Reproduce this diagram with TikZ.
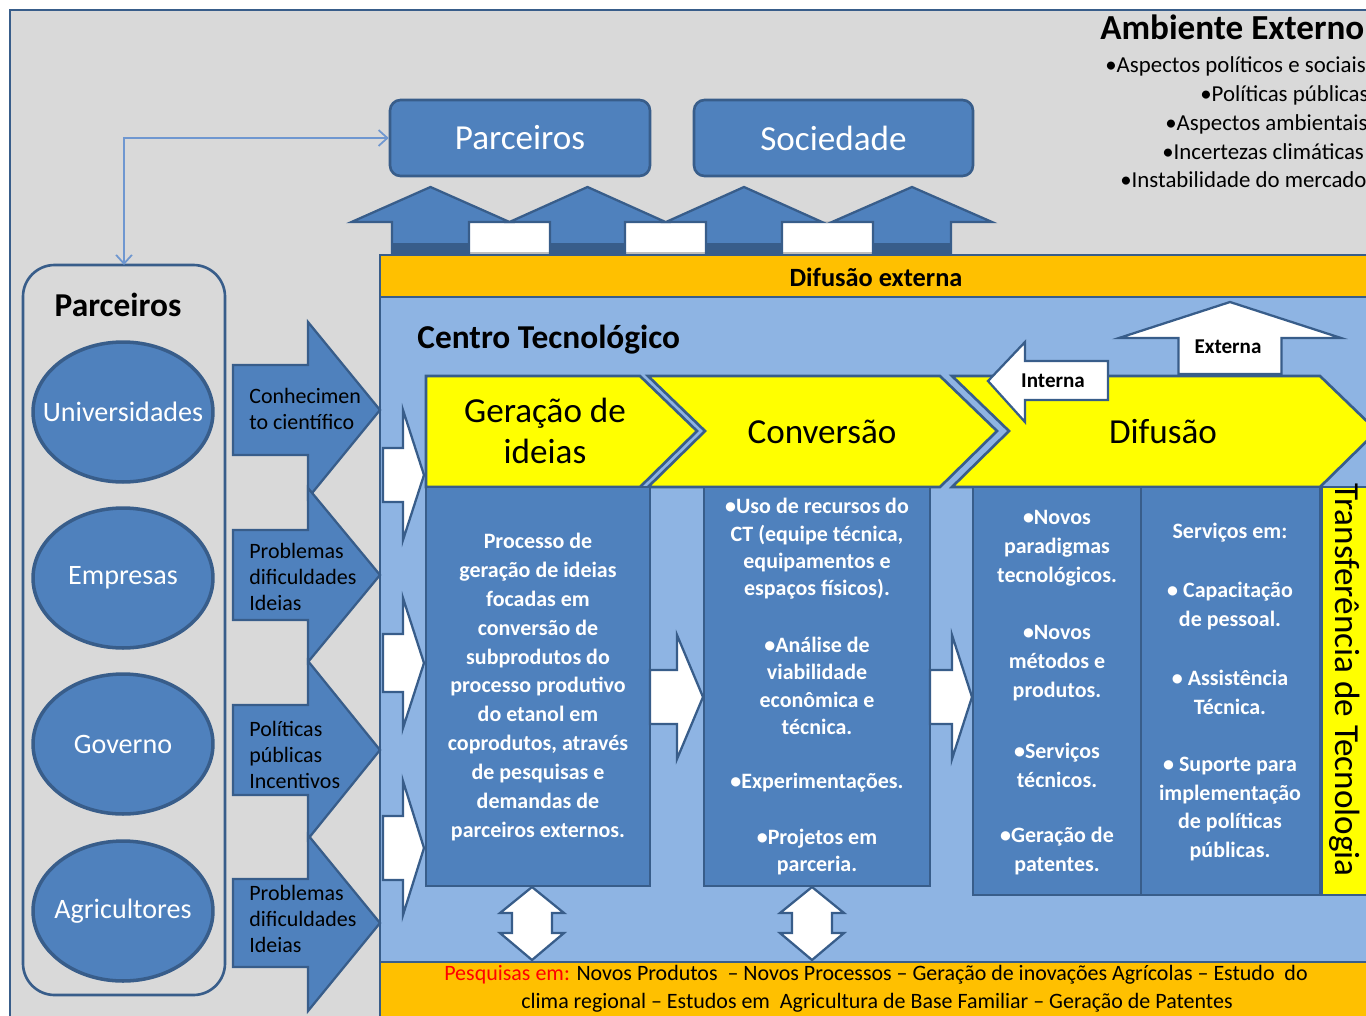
\documentclass[tikz,border=0pt]{standalone}
\usepackage{fontspec}
\setmainfont{Carlito}
\usetikzlibrary{shapes.geometric,arrows.meta}
\definecolor{bggray}{HTML}{D9D9D9}
\definecolor{dblue}{HTML}{385D8A}
\definecolor{mblue}{HTML}{4F81BD}
\definecolor{lblue}{HTML}{8EB4E3}
\definecolor{orangebar}{HTML}{FFC000}
\definecolor{yel}{HTML}{FFFF00}
\definecolor{connc}{HTML}{6F97D0}
\definecolor{boxgray}{HTML}{BFBFBF}
\newcommand\fs[2]{\fontsize{#1}{#2}\selectfont}
% right arrow: style, x0, xh, x1, yc, stem half, head half
\newcommand\RArr[7]{\draw[#1] ({#2},{#5-#6}) -- ({#3},{#5-#6}) -- ({#3},{#5-#7}) -- ({#4},{#5}) -- ({#3},{#5+#7}) -- ({#3},{#5+#6}) -- ({#2},{#5+#6}) -- cycle;}
% up arrow: style, xc, ytip, yhead, ybot, stem half, head half
\newcommand\UArr[7]{\draw[#1] ({#2-#6},{#5}) -- ({#2-#6},{#4}) -- ({#2-#7},{#4}) -- ({#2},{#3}) -- ({#2+#7},{#4}) -- ({#2+#6},{#4}) -- ({#2+#6},{#5}) -- cycle;}
% double vertical arrow: xc
\newcommand\DArr[1]{\draw[whitearr] ({#1},887) -- ({#1+32},913) -- ({#1+20},913) -- ({#1+20},933) -- ({#1+32},933) -- ({#1},960) -- ({#1-32},933) -- ({#1-20},933) -- ({#1-20},913) -- ({#1-32},913) -- cycle;}
\tikzset{
  bord/.style={draw=dblue, line width=1.5pt},
  whitearr/.style={draw=dblue, line width=1.3pt, fill=white},
  bluearr/.style={draw=dblue, line width=1.3pt, fill=mblue},
  topbox/.style={bord, fill=mblue, rounded corners=6pt, text=white, font=\fs{20}{24}, minimum height=1.52cm, inner sep=0},
  oval/.style={ellipse, draw=dblue, line width=2pt, fill=mblue, minimum width=3.6cm, minimum height=2.8cm, inner sep=0},
  ovaltext/.style={text=white, font=\fs{16}{19}, inner sep=0},
  coltext/.style={text=white, font=\bfseries\fs{12.5}{16.4}, align=center, inner sep=0},
  arrtext/.style={text=black, font=\fs{12.5}{14.8}, align=left, inner sep=0, anchor=west},
  envtext/.style={text=black, font=\fs{13}{16}, inner sep=0, anchor=base west},
  conn/.style={draw=connc, line width=1pt, {Straight Barb[length=5pt,width=9pt]}-{Straight Barb[length=5pt,width=9pt]}},
}
\begin{document}
\begin{tikzpicture}[x=0.02cm, y=-0.02cm, line join=miter]
\useasboundingbox (0,0) rectangle (1366,1015);
\fill[white] (0,0) rectangle (1366,1015);
\draw[fill=bggray, draw=dblue, line width=1.7pt] (10,10) rectangle (1400,1050);

% external environment text
\node[envtext, font=\bfseries\fs{20}{24}] (amb) at (1100,39) {Ambiente Externo};
\node[envtext] (e1) at (1105,72) {•Aspectos políticos e sociais};
\node[envtext] (e2) at (1200,101) {•Políticas públicas};
\node[envtext] (e3) at (1165,130) {•Aspectos ambientais};
\node[envtext] (e4) at (1162,159) {•Incertezas climáticas};
\node[envtext] (e5) at (1120,187) {•Instabilidade do mercado};

% top boxes
\node[topbox, minimum width=5.2cm] (parc) at (520,138) {Parceiros};
\node[topbox, minimum width=5.58cm] (soc) at (833.5,138) {Sociedade};

% left partners container
\draw[bord] (23,265) [rounded corners=18pt] rectangle (225,995);
\coordinate (lparctop) at (124,265);
\node[font=\bfseries\fs{19}{22}, inner sep=0] (lparctitle) at (118,305) {Parceiros};
\node[oval] (univ) at (123,412) {};
\node[ovaltext] (univt) at (univ) {Universidades};
\node[oval] (emp) at (123,578) {};
\node[ovaltext] (empt) at (emp) {Empresas};
\node[oval] (gov) at (123,744) {};
\node[ovaltext] (govt) at (gov) {Governo};
\node[oval] (agr) at (123,911) {};
\node[ovaltext] (agrt) at (agr) {Agricultores};

% connector
\draw[conn] (parc.west) -| (lparctop);

% up arrows to partners/society
\foreach \xa/\xb in {469/550, 625/706, 782/873}{
  \draw[fill=white, draw=boxgray, line width=0.8pt] (\xa,222) rectangle (\xb,253);
}
\UArr{bluearr}{430.5}{187}{222}{254}{38.5}{79}
\UArr{bluearr}{587.5}{187}{222}{254}{37.5}{78}
\UArr{bluearr}{744}{187}{222}{254}{38}{78}
\UArr{bluearr}{912}{187}{222}{254}{39}{80}
\foreach \xc/\sw in {430.5/38.5, 587.5/37.5, 744/38, 912/39}{
  \fill[dblue] ({\xc-\sw},243) rectangle ({\xc+\sw},254);
}

% centre area
\draw[bord, fill=lblue] (380,255) rectangle (1400,1050);
\draw[bord, fill=orangebar] (380,255) rectangle (1400,297);
\node[font=\bfseries\fs{15}{18}, inner sep=0] (difext) at (876,277) {Difusão externa};
\draw[bord, fill=orangebar] (380,962) rectangle (1400,1050);
\node[font=\fs{12.5}{15}, inner sep=0] (pesq1) at (876,975) {\textcolor{red}{Pesquisas em:} Novos Produtos \ – Novos Processos – Geração de inovações Agrícolas – Estudo \ do};
\node[font=\fs{12.5}{15}, inner sep=0] (pesq2) at (877,1003) {clima regional – Estudos em \ Agricultura de Base Familiar – Geração de Patentes};

\node[font=\bfseries\fs{19}{22}, inner sep=0, anchor=west] (ct) at (417,340) {Centro Tecnológico};

% left blue arrows from partners
\RArr{bluearr}{233}{308}{380}{410}{45}{88}
\RArr{bluearr}{233}{308}{380}{575}{45}{87}
\RArr{bluearr}{233}{308}{380}{750}{45}{89}
\RArr{bluearr}{233}{308}{380}{923}{44}{88}
\node[arrtext] (a1) at (249,409) {Conhecimen\\to científico};
\node[arrtext] (a2) at (249,577) {Problemas\\dificuldades\\Ideias};
\node[arrtext] (a3) at (249,755) {Políticas\\públicas\\Incentivos};
\node[arrtext] (a4) at (249,919) {Problemas\\dificuldades\\Ideias};

% white input arrows
\RArr{whitearr}{383}{403}{424}{475}{27}{65}
\RArr{whitearr}{383}{403}{424}{663}{29}{65}
\RArr{whitearr}{383}{403}{424}{848}{32}{67}

% chevron headers
\draw[bord, fill=yel] (426,376) -- (640,376) -- (697,431) -- (640,487) -- (426,487) -- cycle;
\draw[bord, fill=yel] (648,376) -- (940,376) -- (997,431) -- (940,487) -- (648,487) -- (705,431) -- cycle;
\draw[bord, fill=yel] (952,376) -- (1320,376) -- (1377,431) -- (1320,487) -- (952,487) -- (1009,431) -- cycle;
\node[font=\fs{20}{23.8}, align=center, inner sep=0] (ger) at (545,431) {Geração de\\ideias};
\node[font=\fs{20}{24}, inner sep=0] (conv) at (822,432) {Conversão};
\node[font=\fs{20}{24}, inner sep=0] (dif) at (1163,432) {Difusão};

% interna / externa arrows
\draw[whitearr] (1108,361) -- (1025,361) -- (1025,342) -- (988,381) -- (1025,422) -- (1025,400) -- (1108,400) -- cycle;
\node[font=\bfseries\fs{12}{14}, inner sep=0] (int) at (1053,381) {Interna};
\UArr{whitearr}{1230}{302}{338}{374}{51.5}{111}
\node[font=\bfseries\fs{12}{14}, inner sep=0] (ext) at (1228,347) {Externa};

% columns
\draw[bord, fill=mblue] (426,487) rectangle (650,886);
\draw[bord, fill=mblue] (704,487) rectangle (930,886);
\draw[bord, fill=mblue] (973,487) rectangle (1141,895);
\draw[bord, fill=mblue] (1141,487) rectangle (1320,895);
\draw[bord, fill=yel] (1322,487) rectangle (1400,895);
\node[font=\fs{20}{24}, inner sep=0, rotate=-90] (transf) at (1345,680) {Transferência de Tecnologia};

\node[coltext] (c1) at (538,687) {Processo de\\geração de ideias\\focadas em\\conversão de\\subprodutos do\\processo produtivo\\do etanol em\\coprodutos, através\\de pesquisas e\\demandas de\\parceiros externos.};

\node[coltext, font=\bfseries\fs{12.5}{15.6}] (c2a) at (817,549) {•Uso de recursos do\\CT (equipe técnica,\\equipamentos e\\espaços físicos).};
\node[coltext, font=\bfseries\fs{12.5}{15.6}] (c2b) at (817,686) {•Análise de\\viabilidade\\econômica e\\técnica.};
\node[coltext] (c2c) at (817,783) {•Experimentações.};
\node[coltext, font=\bfseries\fs{12.5}{15.6}] (c2d) at (817,852) {•Projetos em\\parceria.};

\node[coltext] (c3a) at (1057,548) {•Novos\\paradigmas\\tecnológicos.};
\node[coltext] (c3b) at (1057,663) {•Novos\\métodos e\\produtos.};
\node[coltext] (c3c) at (1057,765) {•Serviços\\técnicos.};
\node[coltext] (c3d) at (1057,851) {•Geração de\\patentes.};

\node[coltext] (c4a) at (1230,533) {Serviços em:};
\node[coltext] (c4b) at (1230,606) {• Capacitação\\de pessoal.};
\node[coltext] (c4c) at (1230,692) {• Assistência\\Técnica.};
\node[coltext] (c4d) at (1230,809) {• Suporte para\\implementação\\de políticas\\públicas.};

% arrows between columns
\RArr{whitearr}{650}{677}{703}{697}{27}{62}
\RArr{whitearr}{930}{952}{972}{697}{27}{62}

% double arrows to bottom bar
\DArr{532}
\DArr{812}
\end{tikzpicture}
\end{document}
